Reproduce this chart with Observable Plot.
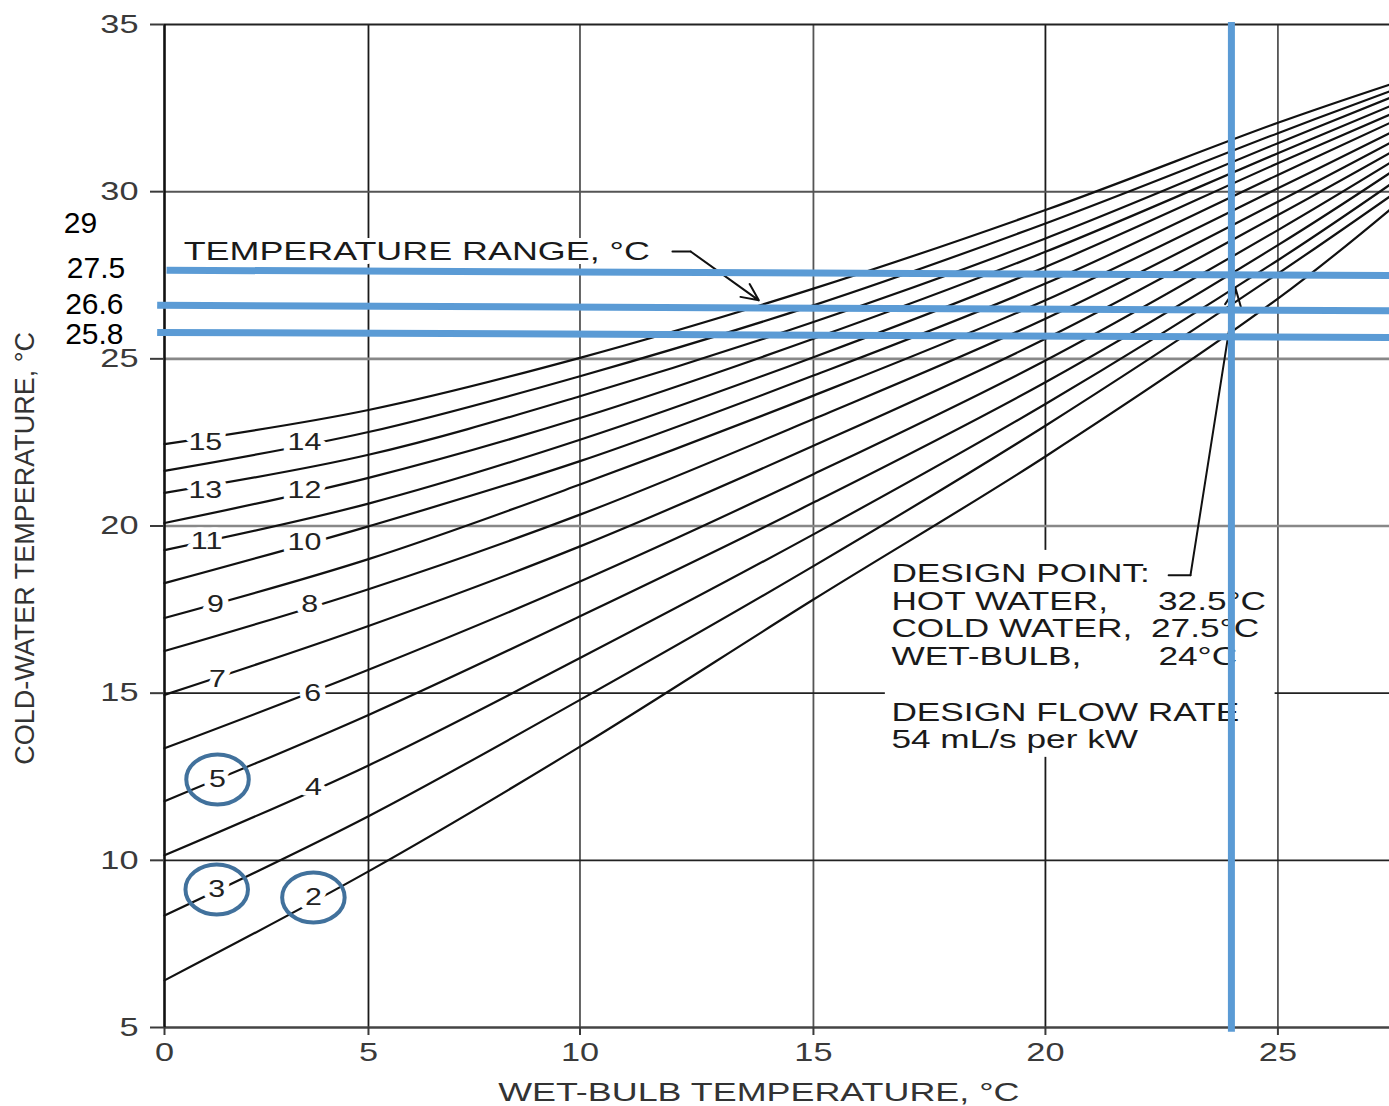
<!DOCTYPE html>
<html><head><meta charset="utf-8">
<script src="https://cdn.jsdelivr.net/npm/d3@7"></script>
<script src="https://cdn.jsdelivr.net/npm/@observablehq/plot@0.6"></script>
<style>
html,body{margin:0;padding:0;background:#fff;}
#chart svg{display:block;}
</style></head><body><div id="chart"></div>
<script>
// ---- data ----
const wetBulb = [0, 5, 10, 15, 20, 25, 27.4];
const ranges = [2, 3, 4, 5, 6, 7, 8, 9, 10, 11, 12, 13, 14, 15];
// cold-water temperature (°C) for each range, at the wet-bulb values above
const coldWater = [
  [6.41, 9.67, 13.40, 17.80, 22.08, 26.80, 29.45],   // 2
  [8.35, 11.32, 14.80, 18.80, 23.00, 27.55, 29.85],  // 3
  [10.15, 12.84, 16.05, 19.75, 23.65, 27.95, 30.20], // 4
  [11.77, 14.35, 17.30, 20.70, 24.30, 28.40, 30.55], // 5
  [13.35, 15.70, 18.34, 21.55, 24.95, 28.85, 30.85], // 6
  [14.95, 17.01, 19.39, 22.40, 25.60, 29.30, 31.15], // 7
  [16.26, 18.11, 20.34, 23.20, 26.20, 29.70, 31.45], // 8
  [17.25, 19.01, 21.24, 23.90, 26.75, 30.10, 31.75], // 9
  [18.29, 19.99, 21.94, 24.50, 27.25, 30.50, 32.05], // 10
  [19.28, 20.67, 22.58, 25.05, 27.75, 30.85, 32.30], // 11
  [20.09, 21.44, 23.23, 25.60, 28.20, 31.15, 32.55], // 12
  [20.99, 22.13, 23.88, 26.10, 28.60, 31.45, 32.80], // 13
  [21.65, 22.81, 24.48, 26.60, 29.05, 31.75, 33.00], // 14
  [22.45, 23.47, 25.03, 27.10, 29.45, 32.06, 33.20]  // 15
];
// curve label positions (wet-bulb, cold-water)
const labelWB = [3.65, 1.28, 3.65, 1.3, 3.63, 1.3, 3.56, 1.25, 3.43, 1.03, 3.43, 1.0, 3.43, 1.0];
const labelCW = [8.89, 9.13, 12.18, 12.42, 15.0, 15.41, 17.66, 17.66, 19.51, 19.54, 21.06, 21.06, 22.5, 22.5];
const circledRanges = [5, 3, 2];

const xTicks = [0, 5, 10, 15, 20, 25];
const yTicks = [5, 10, 15, 20, 25, 30, 35];
// the printed wet-bulb grid is not evenly spaced: relative positions of its gridlines
const xGridSpacing = [0, 4.58, 9.329, 14.571, 19.78, 25];

// user overlay (blue lines and numbers)
const designWetBulb = 24;
const overlayLabels = ["29", "27.5", "26.6", "25.8"];
const overlayLabelY = [29.05, 27.72, 26.64, 25.73];
const overlayLabelX = [-2.06, -1.68, -1.72, -1.72];
const blueLeftY = [27.65, 26.60, 25.79];
const blueRightY = [27.49, 26.44, 25.64];
const blueLeftX = [0.05, -0.18, -0.18];

const designLeft = ["DESIGN POINT:", "HOT WATER,", "COLD WATER,", "WET-BULB,", "DESIGN FLOW RATE", "54 mL/s per kW"];
const designLeftY = [18.56, 17.72, 16.92, 16.08, 14.42, 13.6];
const designRight = ["32.5°C", "27.5°C", "24°C"];
const designRightX = [22.42, 22.27, 22.43];
const designRightY = [17.72, 16.92, 16.08];

const rangeNote = "TEMPERATURE RANGE, °C";
const xTitle = "WET-BULB TEMPERATURE, °C";
const yTitle = "COLD-WATER TEMPERATURE, °C";

// ---- build tables ----
const curves = ranges.flatMap((r, i) => wetBulb.map((w, j) => ({range: r, wb: w, cw: coldWater[i][j]})));
const curveLabels = ranges.map((r, i) => ({text: String(r), wb: labelWB[i], cw: labelCW[i]}));
const circles = curveLabels.filter(d => circledRanges.includes(+d.text));
const blueH = blueLeftY.map((y, i) => ({x1: blueLeftX[i], y1: y, x2: 27.4, y2: blueRightY[i]}));
const overlay = overlayLabels.map((t, i) => ({t, x: overlayLabelX[i], y: overlayLabelY[i]}));
const dLeft = designLeft.map((t, i) => ({t, y: designLeftY[i]}));
const dRight = designRight.map((t, i) => ({t, x: designRightX[i], y: designRightY[i]}));

const warp = d3.scaleLinear().domain(xTicks).range(xGridSpacing);

const ellipse = {
  draw(ctx, size) {
    const r = Math.sqrt(size / Math.PI);
    const rx = r * 1.25, ry = r, k = 0.5523;
    ctx.moveTo(rx, 0);
    ctx.bezierCurveTo(rx, k * ry, k * rx, ry, 0, ry);
    ctx.bezierCurveTo(-k * rx, ry, -rx, k * ry, -rx, 0);
    ctx.bezierCurveTo(-rx, -k * ry, -k * rx, -ry, 0, -ry);
    ctx.bezierCurveTo(k * rx, -ry, rx, -k * ry, rx, 0);
    ctx.closePath();
  }
};

const FONT = "'Liberation Sans', Arial, Helvetica, sans-serif";
const blue = "#5B9BD5";

const chart = Plot.plot({
  width: 1389,
  height: 1106,
  marginLeft: 164, marginRight: 0, marginTop: 24, marginBottom: 79,
  x: {transform: warp, domain: [0, warp(27.4)], axis: null},
  y: {domain: [5, 35], axis: null},
  style: {fontFamily: FONT, background: "white", color: "#222"},
  marks: [
    // grid
    Plot.ruleX([5, 20], {y1: 5, y2: 35, stroke: "#1a1a1a", strokeWidth: 1.8}),
    Plot.ruleX([10, 15, 25], {y1: 5, y2: 35, stroke: "#555", strokeWidth: 1.8}),
    Plot.ruleY([10, 15], {x1: 0, x2: 27.4, stroke: "#222", strokeWidth: 1.6}),
    Plot.ruleY([20, 25], {x1: 0, x2: 27.4, stroke: "#888", strokeWidth: 2.6}),
    Plot.ruleY([30], {x1: 0, x2: 27.4, stroke: "#555", strokeWidth: 2}),
    // frame
    Plot.ruleY([35], {x1: 0, x2: 27.4, stroke: "#222", strokeWidth: 2}),
    Plot.ruleY([5], {x1: 0, x2: 27.4, stroke: "#444", strokeWidth: 2.6}),
    Plot.ruleX([0], {y1: 5, y2: 35, stroke: "#111", strokeWidth: 2.6}),
    // axes
    Plot.axisY(yTicks, {anchor: "left", tickSize: 14, tickPadding: 12, fontSize: 26, color: "#3a3a3a", strokeWidth: 2, label: null}),
    Plot.axisX(xTicks, {anchor: "bottom", tickSize: 8, tickPadding: 7, fontSize: 26, color: "#3a3a3a", strokeWidth: 2, label: null}),
    // white box behind the design note
    Plot.rect([0], {x1: 16.55, x2: 24.94, y1: 13.08, y2: 19.27, fill: "white"}),
    // curves
    Plot.line(curves, {x: "wb", y: "cw", z: "range", stroke: "#111", strokeWidth: 2.2, curve: "catmull-rom"}),
    // curve labels
    Plot.text(curveLabels, {x: "wb", y: "cw", text: "text", fontSize: 23, fill: "#222", stroke: "white", strokeWidth: 9, paintOrder: "stroke"}),
    // temperature range note
    Plot.text([rangeNote], {x: 0.47, y: 28.21, text: d => d, textAnchor: "start", fontSize: 26, fill: "#1a1a1a", stroke: "white", strokeWidth: 8, paintOrder: "stroke"}),
    Plot.line([[11.98, 28.21], [12.37, 28.21]], {stroke: "#111", strokeWidth: 2}),
    Plot.arrow([0], {x1: 12.37, y1: 28.21, x2: 13.83, y2: 26.75, stroke: "#111", strokeWidth: 2, headLength: 14, headAngle: 50}),
    // design point note
    Plot.text(dLeft, {x: 16.68, y: "y", text: "t", textAnchor: "start", fontSize: 25, fill: "#1a1a1a"}),
    Plot.text(dRight, {x: "x", y: "y", text: "t", textAnchor: "start", fontSize: 25, fill: "#1a1a1a"}),
    Plot.line([[22.65, 18.53], [23.12, 18.53]], {stroke: "#111", strokeWidth: 2}),
    Plot.arrow([0], {x1: 23.12, y1: 18.53, x2: 24.09, y2: 27.1, stroke: "#111", strokeWidth: 2, headLength: 14, headAngle: 50}),
    // axis titles
    Plot.text([xTitle], {x: 13.83, y: 3.05, text: d => d, fontSize: 26, fill: "#333"}),
    Plot.text([yTitle], {x: -3.41, y: 19.33, text: d => d, rotate: -90, fontSize: 27, fill: "#333"}),
    // blue overlay
    Plot.link(blueH, {x1: "x1", y1: "y1", x2: "x2", y2: "y2", stroke: blue, strokeWidth: 7}),
    Plot.ruleX([designWetBulb], {y1: 4.86, y2: 35.06, stroke: blue, strokeWidth: 7}),
    Plot.dot(circles, {x: "wb", y: "cw", r: 25, symbol: ellipse, fill: "none", stroke: "#41719C", strokeWidth: 4}),
    Plot.text(overlay, {x: "x", y: "y", text: "t", fontSize: 30, fill: "#000"})
  ]
});

// the scanned original is stretched horizontally: widen its lettering
// (the overlay numbers and the rotated axis title are not stretched)
const noStretch = new Set([...overlayLabels, yTitle]);
const designTexts = new Set([...designLeft, ...designRight]);
chart.querySelectorAll("text").forEach(t => {
  const s = t.textContent;
  if (noStretch.has(s)) return;
  let k;
  if (/^\d+$/.test(s)) k = 1.32;
  else if (designTexts.has(s)) k = 1.41;
  else k = 1.38;
  t.setAttribute("transform", (t.getAttribute("transform") || "") + ` scale(${k},1)`);
});
document.getElementById("chart").append(chart);
</script>
</body></html>
